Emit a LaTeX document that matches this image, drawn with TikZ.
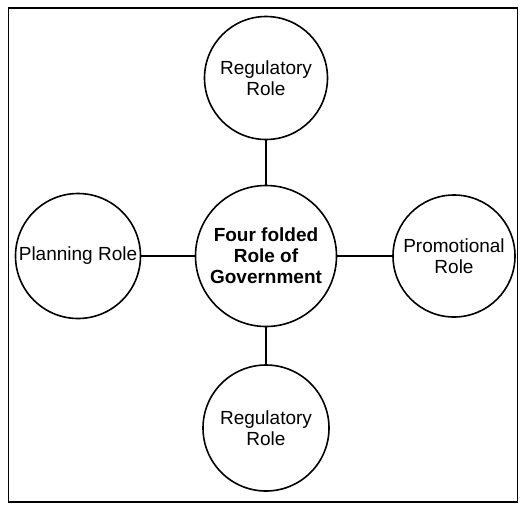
\documentclass[tikz,border=0pt]{standalone}
\usepackage{fontspec}
\setmainfont{Liberation Sans}
\begin{document}
\begin{tikzpicture}[x=1pt,y=-1pt,
  rolecircle/.style={draw=black, line width=1.6pt, circle, inner sep=0pt, align=center,
    font=\fontsize{19}{21}\selectfont},
  link/.style={draw=black, line width=1.6pt}]
\useasboundingbox (0,0) rectangle (529,509);
\node[draw=black, line width=1.6pt, minimum width=509pt, minimum height=494pt, inner sep=0pt] (frame) at (263,255) {};
\node[rolecircle, minimum size=141pt, font=\bfseries\fontsize{19}{21}\selectfont] (center) at (266,256) {Four folded\\Role of\\Government};
\node[rolecircle, minimum size=123pt] (top) at (266,78) {Regulatory\\Role};
\node[rolecircle, minimum size=125pt] (left) at (78,256) {Planning Role};
\node[rolecircle, minimum size=122pt] (right) at (454,256) {Promotional\\Role};
\node[rolecircle, minimum size=126pt] (bottom) at (266,428) {Regulatory\\Role};
\draw[link] (top) -- (center);
\draw[link] (center) -- (bottom);
\draw[link] (left) -- (center);
\draw[link] (center) -- (right);
\end{tikzpicture}
\end{document}
